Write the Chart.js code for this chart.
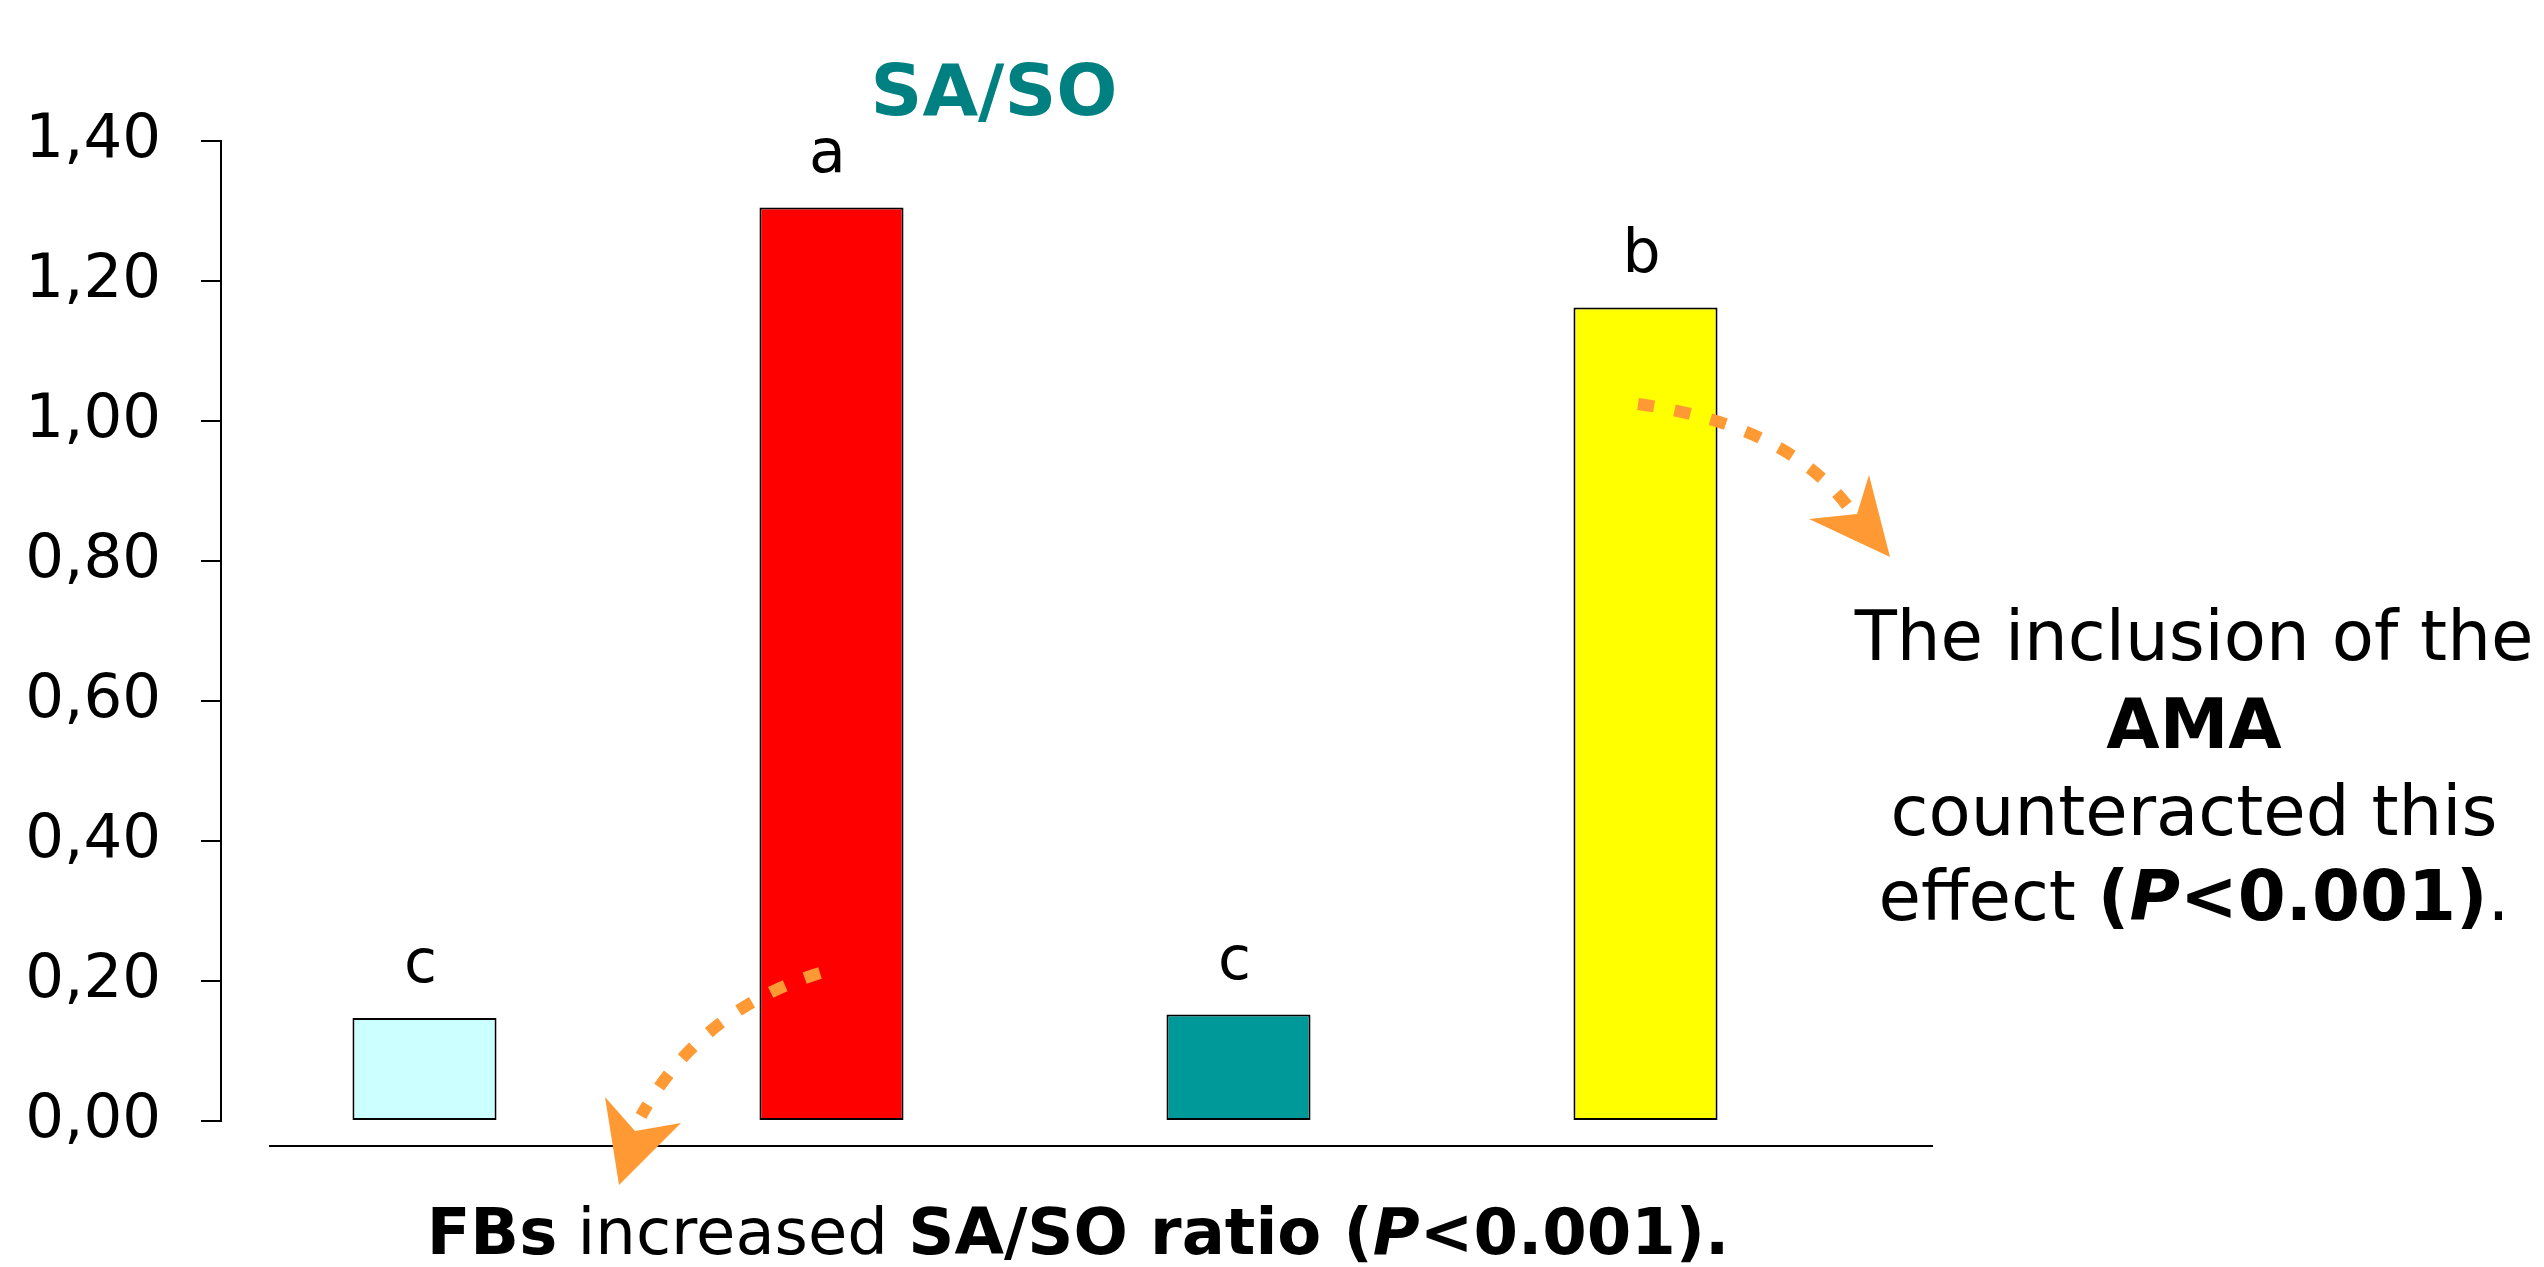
<!DOCTYPE html>
<html>
<head>
<meta charset="utf-8">
<script src="https://cdn.jsdelivr.net/npm/chart.js@4/dist/chart.umd.min.js"></script>
<style>
  html, body { margin: 0; padding: 0; background: #ffffff; }
  #wrap { width: 2544px; height: 1267px; }
</style>
</head>
<body>
<div id="wrap"><canvas id="c" width="2544" height="1267"></canvas></div>
<script>
// ---- data ----
const categories = ['Control', 'FB', 'AMA', 'FB + AMA'];
const saSoValues = [0.147, 1.305, 0.152, 1.162];
const sigLetters = ['c', 'a', 'c', 'b'];
const yTickLabels = ['0,00', '0,20', '0,40', '0,60', '0,80', '1,00', '1,20', '1,40'];
const chartTitle = 'SA/SO';

// ---- styles ----
const barColors = ['#CCFFFF', '#FF0000', '#009999', '#FFFF00'];
const FONT = 'DejaVu Sans';
const ORANGE = '#FF9933';

function fontStr(size, weight, style) {
  return (style || 'normal') + ' ' + (weight || 'normal') + ' ' + size + 'px "' + FONT + '"';
}

function drawRuns(ctx, runs, cx, baseline, size) {
  let total = 0;
  runs.forEach(r => { ctx.font = fontStr(size, r.b ? 'bold' : 'normal', r.i ? 'italic' : 'normal'); r.w = ctx.measureText(r.t).width; total += r.w; });
  let x = cx - total / 2;
  ctx.textAlign = 'left';
  ctx.textBaseline = 'alphabetic';
  runs.forEach(r => {
    ctx.font = fontStr(size, r.b ? 'bold' : 'normal', r.i ? 'italic' : 'normal');
    ctx.fillText(r.t, x, baseline);
    x += r.w;
  });
}

function dottedCurve(ctx, p0, c, p1) {
  ctx.save();
  ctx.strokeStyle = ORANGE;
  ctx.lineWidth = 12;
  ctx.lineCap = 'butt';
  ctx.setLineDash([16, 21]);
  ctx.beginPath();
  ctx.moveTo(p0[0], p0[1]);
  ctx.quadraticCurveTo(c[0], c[1], p1[0], p1[1]);
  ctx.stroke();
  ctx.restore();
}

function arrowHead(ctx, tip, w1, notch, w2) {
  ctx.save();
  ctx.fillStyle = ORANGE;
  ctx.beginPath();
  ctx.moveTo(tip[0], tip[1]);
  ctx.lineTo(w1[0], w1[1]);
  ctx.lineTo(notch[0], notch[1]);
  ctx.lineTo(w2[0], w2[1]);
  ctx.closePath();
  ctx.fill();
  ctx.restore();
}

const decorPlugin = {
  id: 'decor',
  afterDraw(chart) {
    const ctx = chart.ctx;
    const area = chart.chartArea;
    ctx.save();

    // separate x-axis baseline, drawn below the zero level
    ctx.strokeStyle = '#000';
    ctx.lineWidth = 2;
    ctx.beginPath();
    ctx.moveTo(area.left + 48, area.bottom + 25);
    ctx.lineTo(area.right + 84, area.bottom + 25);
    ctx.stroke();

    // title
    ctx.fillStyle = '#008080';
    ctx.font = fontStr(72, 'bold');
    ctx.textAlign = 'center';
    ctx.textBaseline = 'alphabetic';
    ctx.fillText(chartTitle, 994, 115);

    // significance letters over bars
    const meta = chart.getDatasetMeta(0);
    ctx.fillStyle = '#000';
    ctx.font = fontStr(60);
    meta.data.forEach((bar, i) => {
      ctx.fillText(sigLetters[i], bar.x - 4, bar.y - 36);
    });

    // arrows
    dottedCurve(ctx, [820, 973], [700, 1010], [641, 1116]);
    arrowHead(ctx, [619, 1185], [605, 1097], [635, 1131], [681, 1123]);
    dottedCurve(ctx, [1638, 404], [1790, 425], [1852, 512]);
    arrowHead(ctx, [1890, 557], [1809, 519], [1857, 514], [1869, 475]);

    // right annotation
    ctx.fillStyle = '#000';
    const rs = 69, rcx = 2194;
    drawRuns(ctx, [{ t: 'The inclusion of the' }], rcx, 660, rs);
    drawRuns(ctx, [{ t: 'AMA', b: true }], rcx, 748, rs);
    drawRuns(ctx, [{ t: 'counteracted this' }], rcx, 835, rs);
    drawRuns(ctx, [{ t: 'effect ' }, { t: '(', b: true }, { t: 'P', b: true, i: true }, { t: '<0.001)', b: true }, { t: '.' }], rcx, 920, rs);

    // bottom conclusion
    drawRuns(ctx, [
      { t: 'FBs', b: true },
      { t: ' increased ' },
      { t: 'SA/SO ratio (', b: true },
      { t: 'P', b: true, i: true },
      { t: '<0.001).', b: true }
    ], 1078, 1254, 64);

    ctx.restore();
  }
};

new Chart(document.getElementById('c'), {
  type: 'bar',
  data: {
    labels: categories,
    datasets: [{
      label: chartTitle,
      data: saSoValues,
      backgroundColor: barColors,
      borderColor: '#000000',
      borderWidth: 2,
      borderSkipped: false,
      barPercentage: 0.354,
      categoryPercentage: 1.0
    }]
  },
  options: {
    responsive: false,
    devicePixelRatio: 1,
    animation: false,
    layout: { padding: { left: 0, right: 695, top: 141, bottom: 146 } },
    plugins: {
      legend: { display: false },
      tooltip: { enabled: false },
      title: { display: false }
    },
    scales: {
      x: {
        type: 'category',
        display: false,
        offset: true
      },
      y: {
        min: 0,
        max: 1.4,
        afterFit: (s) => { s.width = 221; },
        ticks: {
          stepSize: 0.2,
          color: '#000',
          padding: 40,
          font: { family: FONT, size: 61 },
          callback: (v, i) => yTickLabels[i]
        },
        grid: {
          drawOnChartArea: false,
          drawTicks: true,
          tickLength: 20,
          color: '#000',
          lineWidth: 2
        },
        border: { display: true, color: '#000', width: 2 }
      }
    }
  },
  plugins: [decorPlugin]
});
</script>
</body>
</html>
